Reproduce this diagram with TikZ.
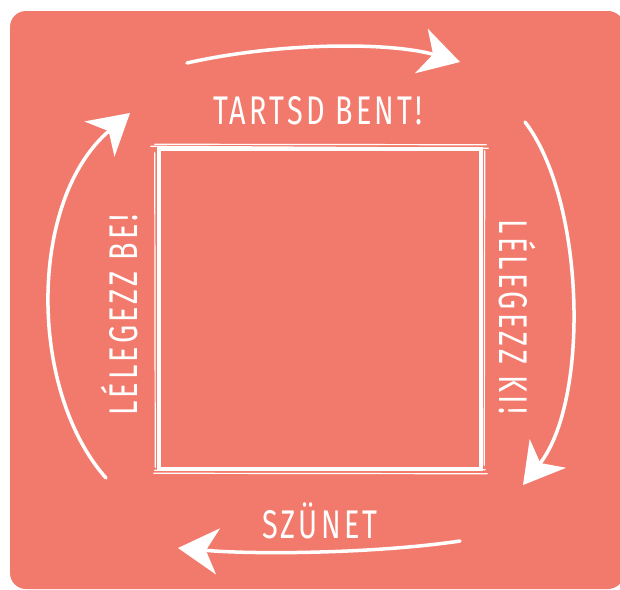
\documentclass[tikz,border=0pt]{standalone}
\usepackage{fontspec}
\newfontfamily\handfont[FakeStretch=0.72,LetterSpace=8]{Fira Sans}
\usetikzlibrary{arrows.meta}
\definecolor{salmon}{RGB}{242,122,108}
\begin{document}
\begin{tikzpicture}[x=1pt,y=-1pt,
  lbl/.style={text=white,font=\handfont\fontsize{40}{40}\selectfont,inner sep=0pt},
  box/.style={draw=white,line width=4.5pt,minimum width=322pt,minimum height=320pt,inner sep=0pt},
  scratch/.style={white,line width=1.2pt,line cap=round},
  cycle arrow/.style={white,line width=3.5pt,line cap=round,
    -{Stealth[length=40pt,width=46pt,inset=12pt]}}]
  \useasboundingbox (0,0) rectangle (620,589);
  % background card
  \fill[salmon,rounded corners=16pt] (10,11) rectangle (624,589);
  % the square in the middle
  \node[box] (sq) at (320,309) {};
  % rough extra strokes on the square
  \draw[scratch] ([xshift=-6pt,yshift=0.5pt]sq.north west) -- ([xshift=5pt,yshift=-1.5pt]sq.north east);
  \draw[scratch] ([xshift=-2pt,yshift=2.5pt]sq.north west) -- ([xshift=3pt,yshift=2pt]sq.north east);
  \draw[scratch] ([xshift=-2.5pt,yshift=-6pt]sq.north east) -- ([xshift=-2pt,yshift=4pt]sq.south east);
  \draw[scratch] ([xshift=1.5pt,yshift=-4pt]sq.north east) -- ([xshift=1pt,yshift=6pt]sq.south east);
  \draw[scratch] ([xshift=4pt,yshift=-2.5pt]sq.south east) -- ([xshift=-3pt,yshift=-2pt]sq.south west);
  \draw[scratch] ([xshift=2pt,yshift=1.5pt]sq.south east) -- ([xshift=-2pt,yshift=1pt]sq.south west);
  \draw[scratch] ([xshift=2.5pt,yshift=5pt]sq.south west) -- ([xshift=2pt,yshift=-5pt]sq.north west);
  \draw[scratch] ([xshift=-1.5pt,yshift=4pt]sq.south west) -- ([xshift=-2pt,yshift=-6pt]sq.north west);
  % labels round the square
  \node[lbl] (hold) at (318,111) {TARTSD BENT!};
  \node[lbl,rotate=-90] (exhale) at (517,317) {LÉLEGEZZ KI!};
  \node[lbl] (pause) at (320,521) {SZÜNET};
  \node[lbl,rotate=90] (inhale) at (120,315) {LÉLEGEZZ BE!};
  % ends of the four arrows
  \coordinate (top-a) at (187,63);
  \coordinate (top-b) at (460,62);
  \coordinate (right-a) at (525,122);
  \coordinate (right-b) at (523,485);
  \coordinate (bottom-a) at (460,541);
  \coordinate (bottom-b) at (178,548);
  \coordinate (left-a) at (106,478);
  \coordinate (left-b) at (130,113);
  % top arrow, to the right
  \draw[cycle arrow] (top-a) .. controls (280,42) and (390,42) .. (top-b);
  % right arrow, downwards
  \draw[cycle arrow] (right-a) .. controls (585,200) and (590,400) .. (right-b);
  % bottom arrow, to the left
  \draw[cycle arrow] (bottom-a) .. controls (380,553) and (260,555) .. (bottom-b);
  % left arrow, upwards
  \draw[cycle arrow] (left-a) .. controls (28,390) and (28,200) .. (left-b);
\end{tikzpicture}
\end{document}
